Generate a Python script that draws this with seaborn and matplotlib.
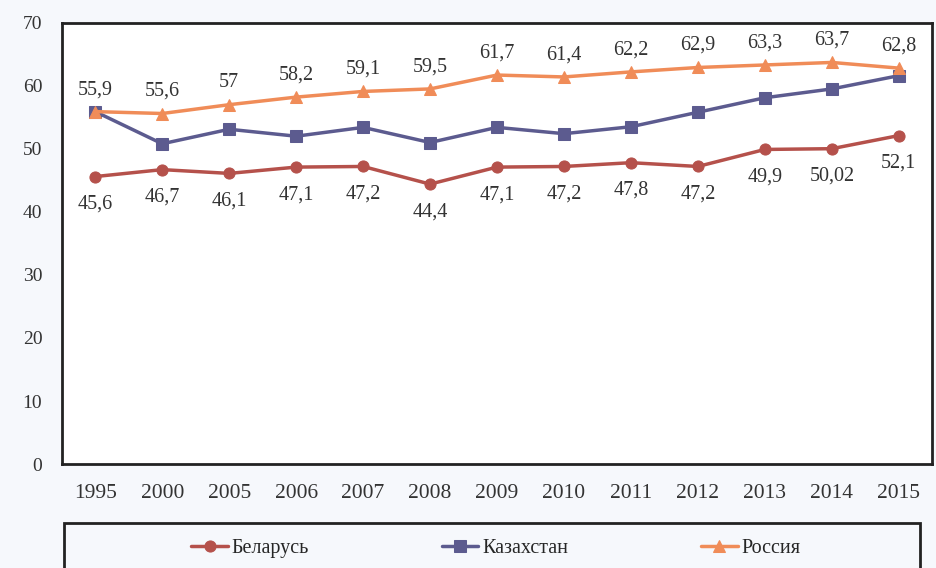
import pandas as pd
import matplotlib.pyplot as plt
import seaborn as sns
from matplotlib.patches import Rectangle

# Данные
years = ['1995', '2000', '2005', '2006', '2007', '2008', '2009',
         '2010', '2011', '2012', '2013', '2014', '2015']
belarus = [45.6, 46.7, 46.1, 47.1, 47.2, 44.4, 47.1, 47.2, 47.8, 47.2, 49.9, 50.02, 52.1]
kazakhstan = [55.9, 50.8, 53.1, 52.0, 53.4, 51.0, 53.4, 52.4, 53.5, 55.8, 58.1, 59.5, 61.6]
russia = [55.9, 55.6, 57, 58.2, 59.1, 59.5, 61.7, 61.4, 62.2, 62.9, 63.3, 63.7, 62.8]

belarus_labels = ['45,6', '46,7', '46,1', '47,1', '47,2', '44,4', '47,1',
                  '47,2', '47,8', '47,2', '49,9', '50,02', '52,1']
russia_labels = ['55,9', '55,6', '57', '58,2', '59,1', '59,5', '61,7',
                 '61,4', '62,2', '62,9', '63,3', '63,7', '62,8']

sns.set_style("white")
plt.rcParams['font.family'] = ['Liberation Serif', 'DejaVu Serif']

fig = plt.figure(figsize=(9.36, 5.68), dpi=100, facecolor='#f6f8fc')
ax = fig.add_axes([0.066, 0.183, 0.93, 0.777])
ax.set_facecolor('white')

c_bel = '#b5514b'
c_kaz = '#5c5b8f'
c_rus = '#f08c58'

sns.lineplot(x=years, y=belarus, ax=ax, color=c_bel, marker='o', markersize=8,
             linewidth=2.5, markeredgecolor=c_bel, label='Беларусь')
sns.lineplot(x=years, y=kazakhstan, ax=ax, color=c_kaz, marker='s', markersize=8,
             linewidth=2.5, markeredgecolor=c_kaz, label='Казахстан')
sns.lineplot(x=years, y=russia, ax=ax, color=c_rus, marker='^', markersize=9,
             linewidth=2.5, markeredgecolor=c_rus, label='Россия')

# Подписи значений
for i, (v, t) in enumerate(zip(russia, russia_labels)):
    ax.annotate(t, (i, v), xytext=(0, 9), textcoords='offset points',
                ha='center', va='bottom', fontsize=14.5, color='#333333')
for i, (v, t) in enumerate(zip(belarus, belarus_labels)):
    ax.annotate(t, (i, v), xytext=(0, -13), textcoords='offset points',
                ha='center', va='top', fontsize=14.5, color='#333333')

ax.set_xlim(-0.5, len(years) - 0.5)
ax.set_ylim(0, 70)
ax.set_yticks(range(0, 71, 10))
ax.tick_params(axis='y', labelsize=14, length=0, pad=14, colors='#333333')
ax.tick_params(axis='x', labelsize=15.5, length=0, pad=14, colors='#333333')
ax.set_xlabel('')
ax.set_ylabel('')
for s in ax.spines.values():
    s.set_visible(True)
    s.set_color('#222222')
    s.set_linewidth(2)

ax.get_legend().remove()
handles, labels = ax.get_legend_handles_labels()
leg = fig.legend(handles, labels, loc='center', ncol=3,
                 bbox_to_anchor=(0.53, 0.035), frameon=False,
                 fontsize=14.5, handlelength=1.8, handletextpad=0.2,
                 columnspacing=6.6)
# рамка легенды
fig.patches.append(Rectangle((0.068, -0.02), 0.915, 0.1, transform=fig.transFigure,
                             fill=False, edgecolor='#222222', linewidth=2))

fig.savefig('out.png', dpi=100, facecolor=fig.get_facecolor())
